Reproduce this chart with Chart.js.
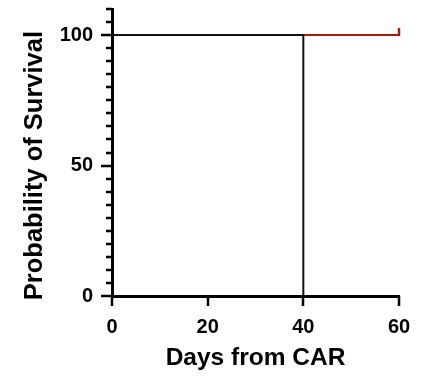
<!DOCTYPE html>
<html>
<head>
<meta charset="utf-8">
<script src="https://cdn.jsdelivr.net/npm/chart.js@4"></script>
<style>
  html, body { margin: 0; padding: 0; background: #fff; }
  #wrap { width: 421px; height: 377px; }
</style>
</head>
<body>
<div id="wrap"><canvas id="km"></canvas></div>
<script>
// Kaplan-Meier: two groups
const daysA = [0, 40];
const survivalA = [100, 0];
const daysB = [0, 60];
const survivalB = [100, 100];
const censoredB = [60];      // censored times (tick marks) for group B
const xTicks = [0, 20, 40, 60];
const yLabelled = [0, 50, 100];
const yTitle = 'Probability of Survival';

const FONT = "'Liberation Sans', Arial, Helvetica, sans-serif";
const RED = '#a01c10';

// tick marks drawn by hand so minor ticks can be shorter than major ones
const axisTicks = {
    id: 'axisTicks',
    afterDraw(chart) {
        const { ctx, chartArea, scales } = chart;
        ctx.save();
        ctx.strokeStyle = '#000';
        ctx.lineWidth = 2.5;
        scales.y.ticks.forEach(t => {
            const py = Math.round(scales.y.getPixelForValue(t.value));
            const len = yLabelled.includes(t.value) ? 11 : 6;
            ctx.beginPath();
            ctx.moveTo(chartArea.left - len, py);
            ctx.lineTo(chartArea.left, py);
            ctx.stroke();
        });
        xTicks.forEach(v => {
            const px = Math.round(scales.x.getPixelForValue(v));
            ctx.beginPath();
            ctx.moveTo(px, chartArea.bottom);
            ctx.lineTo(px, chartArea.bottom + 10);
            ctx.stroke();
        });
        // censor marks
        ctx.strokeStyle = RED;
        ctx.lineWidth = 2.5;
        censoredB.forEach(c => {
            const px = scales.x.getPixelForValue(c);
            const idx = daysB.findIndex(d => d >= c);
            const py = scales.y.getPixelForValue(survivalB[idx]);
            ctx.beginPath();
            ctx.moveTo(px, py + 1);
            ctx.lineTo(px, py - 7);
            ctx.stroke();
        });
        // y title, centred on the labelled 0..100 range
        const first = yLabelled[0], last = yLabelled[yLabelled.length - 1];
        const cy = (scales.y.getPixelForValue(first) + scales.y.getPixelForValue(last)) / 2;
        ctx.translate(42, cy);
        ctx.rotate(-Math.PI / 2);
        ctx.fillStyle = '#000';
        ctx.font = `bold 25.5px ${FONT}`;
        ctx.textAlign = 'center';
        ctx.textBaseline = 'alphabetic';
        ctx.fillText(yTitle, 0, 0);
        ctx.restore();
    }
};

new Chart(document.getElementById('km'), {
    type: 'line',
    data: {
        datasets: [
            {
                label: 'A',
                data: daysA.map((d, i) => ({ x: d, y: survivalA[i] })),
                borderColor: '#111',
                borderWidth: 2,
                stepped: true,
                pointRadius: 0,
                fill: false
            },
            {
                label: 'B',
                data: daysB.map((d, i) => ({ x: d, y: survivalB[i] })),
                borderColor: RED,
                borderWidth: 2,
                stepped: true,
                pointRadius: 0,
                fill: false
            }
        ]
    },
    options: {
        responsive: true,
        maintainAspectRatio: false,
        animation: false,
        layout: { padding: { left: 0, right: 22, top: 9, bottom: 0 } },
        scales: {
            x: {
                type: 'linear',
                min: 0,
                max: 60,
                afterFit: s => { s.height = 81; s.paddingLeft = 0; s.paddingRight = 0; },
                afterBuildTicks: s => { s.ticks = xTicks.map(v => ({ value: v })); },
                ticks: {
                    color: '#000',
                    padding: 19,
                    font: { family: FONT, size: 20, weight: 'bold' },
                    maxRotation: 0
                },
                grid: { display: true, drawOnChartArea: false, drawTicks: false },
                border: { display: true, color: '#000', width: 3 },
                title: {
                    display: true,
                    text: 'Days from CAR',
                    color: '#000',
                    font: { family: FONT, size: 24.5, weight: 'bold' },
                    padding: { top: 0, bottom: 4 }
                }
            },
            y: {
                min: 0,
                max: 110,
                afterFit: s => { s.width = 112; s.paddingTop = 0; s.paddingBottom = 0; },
                ticks: {
                    stepSize: 5,
                    autoSkip: false,
                    color: '#000',
                    padding: 19,
                    font: { family: FONT, size: 20, weight: 'bold' },
                    callback: v => (yLabelled.includes(v) ? String(v) : '')
                },
                grid: { display: true, drawOnChartArea: false, drawTicks: false },
                border: { display: true, color: '#000', width: 3 },
                title: { display: false }
            }
        },
        plugins: {
            legend: { display: false },
            tooltip: { enabled: false }
        }
    },
    plugins: [axisTicks]
});
</script>
</body>
</html>
